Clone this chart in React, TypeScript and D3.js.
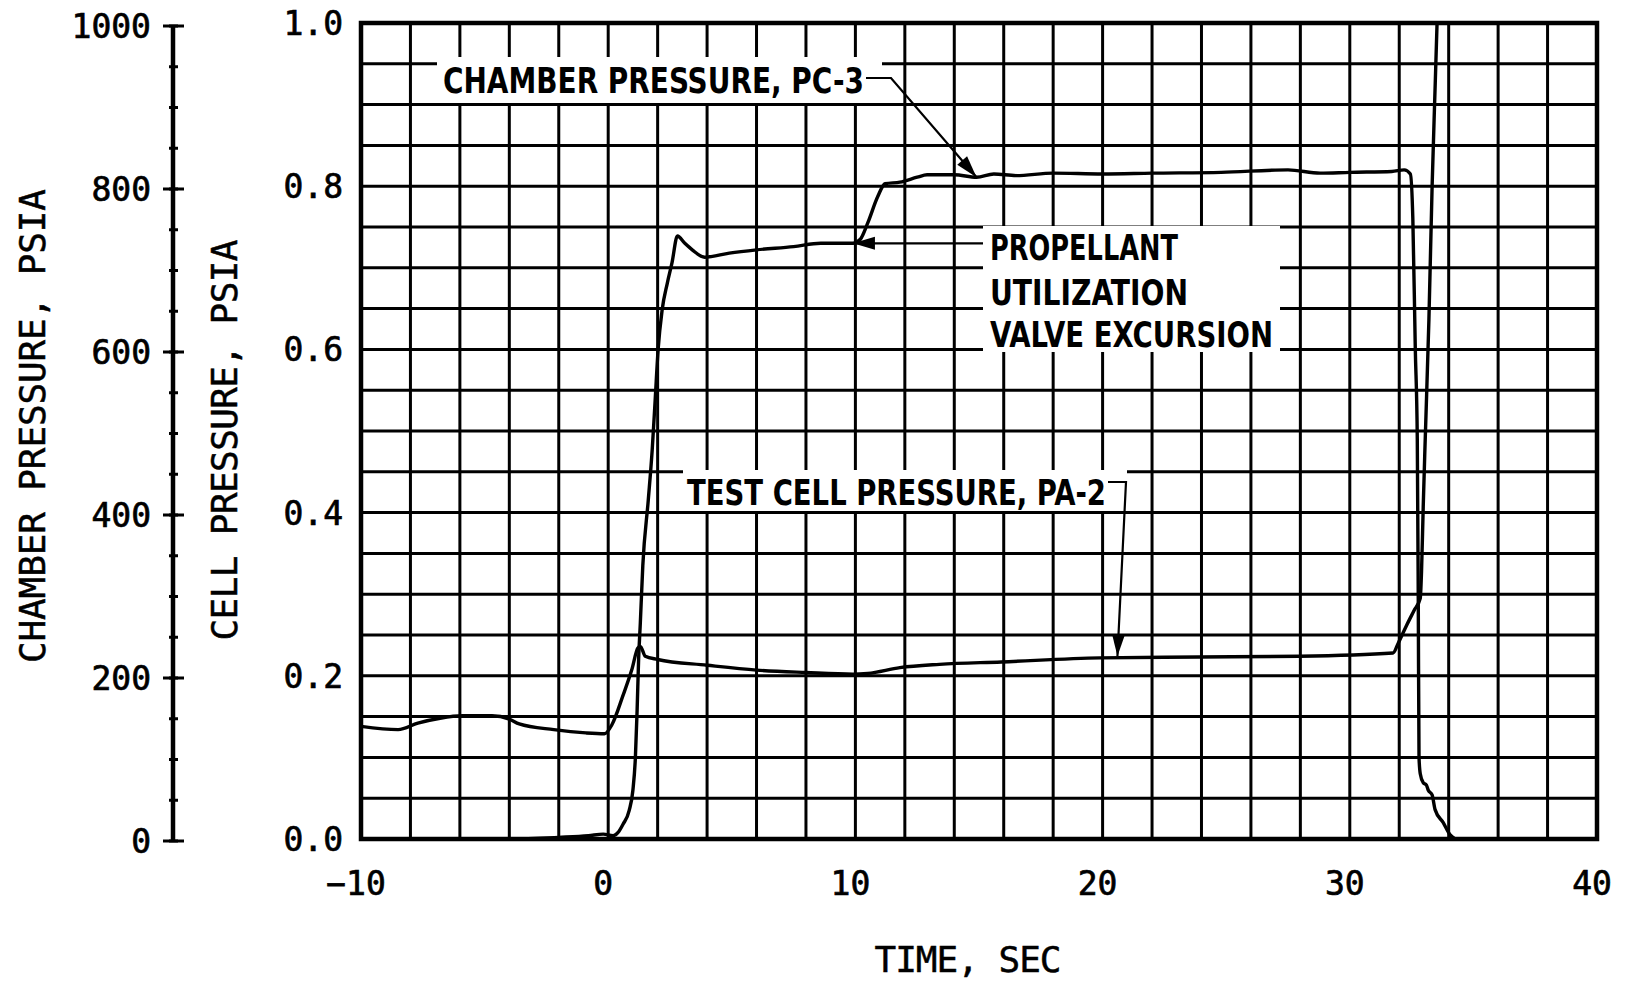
import React from 'react';
import * as d3 from 'd3';

// ---- Data ----
const timeTicks = [-10, 0, 10, 20, 30, 40];
const cellTicks = [0, 0.2, 0.4, 0.6, 0.8, 1.0];
const chamberTicks = [0, 200, 400, 600, 800, 1000];

// Chamber pressure PC-3 (psia) vs time (sec)
const chamberT = [-10, -4, -2, -0.8, -0.2, 0.2, 0.4, 0.6, 0.85, 1.0, 1.1, 1.17, 1.23, 1.3, 1.4, 1.62, 1.78, 1.9, 2.02, 2.18, 2.39, 2.58, 2.8, 3.1, 3.4, 3.9, 4.9, 6.0, 7.5, 8.6, 9.9, 10.2, 10.5, 10.9, 11.2, 11.8, 12.5, 12.9, 14.0, 14.9, 15.6, 16.5, 18, 20, 22, 24.8, 27.5, 28.8, 30, 31.7, 32.2, 32.45, 32.55, 32.65, 32.73, 32.77, 32.8, 32.85, 32.97, 33.1, 33.17, 33.33, 33.45, 33.78, 34.06, 34.26];
const chamberP = [0, 0, 2, 4, 6, 4, 8, 18, 35, 60, 100, 158, 220, 265, 335, 415, 477, 538, 600, 648, 681, 706, 739, 730, 722, 713, 718, 722, 726, 730, 730, 735, 755, 787, 803, 805, 811, 814, 814, 811, 815, 813, 816, 815, 816, 817, 820, 816, 817, 818, 820, 815, 760, 600, 490, 290, 100, 80, 69, 66, 60, 54, 36, 20, 5, 0];

// Test cell pressure PA-2 (psia) vs time (sec)
const cellT = [-10, -8.5, -7.7, -6.8, -5.9, -4.7, -4.0, -3.6, -2.2, -0.9, -0.15, 0.15, 0.6, 0.95, 1.2, 1.3, 1.5, 2.0, 4.0, 6.0, 8.0, 9.9, 10.5, 11.8, 13.4, 15.9, 19.9, 23.9, 27.95, 31.75, 31.96, 32.3, 32.6, 32.85, 32.9, 32.97, 33.05, 33.2, 33.33, 33.45, 33.55];
const cellP = [0.138, 0.134, 0.142, 0.148, 0.151, 0.151, 0.147, 0.141, 0.134, 0.130, 0.129, 0.140, 0.176, 0.207, 0.234, 0.236, 0.224, 0.220, 0.213, 0.207, 0.204, 0.202, 0.203, 0.210, 0.214, 0.217, 0.222, 0.223, 0.224, 0.228, 0.240, 0.262, 0.280, 0.295, 0.326, 0.407, 0.489, 0.636, 0.800, 0.920, 1.02];

const MONO = '"DejaVu Sans Mono", "Liberation Mono", monospace';
const COND = '"Liberation Sans Narrow", "DejaVu Sans Condensed", "Roboto Condensed", sans-serif';

function arrowHead(x1: number, y1: number, x2: number, y2: number, len = 22, half = 6.5) {
  const a = Math.atan2(y2 - y1, x2 - x1);
  const bx = x2 - len * Math.cos(a);
  const by = y2 - len * Math.sin(a);
  const px = -Math.sin(a) * half;
  const py = Math.cos(a) * half;
  return `${x2},${y2} ${bx + px},${by + py} ${bx - px},${by - py}`;
}

export default function App() {
  const L = 361, R = 1597, T = 23, B = 839;
  const x = d3.scaleLinear().domain([-10, 40]).range([L, R]);
  const yCell = d3.scaleLinear().domain([0, 1]).range([B, T]);
  const yChamber = d3.scaleLinear().domain([0, 1000]).range([B, T]);
  const yChamberAxis = d3.scaleLinear().domain([0, 1000]).range([841, 26]);

  const xGrid = d3.range(-10, 40.001, 2);
  const yGrid = d3.range(0, 1.0001, 0.05);
  const minorLeft = d3.range(0, 1000.001, 50);

  const chamberData = chamberT.map((t, i) => [t, chamberP[i]] as [number, number]);
  const cellData = cellT.map((t, i) => [t, cellP[i]] as [number, number]);

  const chamberLine = d3.line<[number, number]>()
    .x(d => x(d[0])).y(d => yChamber(d[1])).curve(d3.curveMonotoneX);
  const cellLine = d3.line<[number, number]>()
    .x(d => x(d[0])).y(d => yCell(d[1])).curve(d3.curveMonotoneX);

  // annotation geometry
  const pcTip: [number, number] = [x(14.9), yChamber(811)];
  const puTip: [number, number] = [x(9.9), yChamber(730)];
  const paTip: [number, number] = [x(20.6), yCell(0.224)];

  const pcStart: [number, number] = [891, 78];
  const puStart: [number, number] = [983, puTip[1]];
  const paStart: [number, number] = [1126, 482];

  return (
    <svg width={1627} height={983} style={{ position: 'absolute', left: 0, top: 0, background: '#fff' }}>
      <rect x={0} y={0} width={1627} height={983} fill="#fff" />
      <defs>
        <clipPath id="plotClip">
          <rect x={L} y={T} width={R - L} height={B - T} />
        </clipPath>
      </defs>

      {/* grid */}
      <g stroke="#000" strokeWidth={3}>
        {xGrid.map(t => (
          <line key={'vx' + t} x1={x(t)} x2={x(t)} y1={T} y2={B} />
        ))}
        {yGrid.map(v => (
          <line key={'hy' + v} x1={L} x2={R} y1={yCell(v)} y2={yCell(v)} />
        ))}
      </g>

      {/* label boxes blanking grid */}
      <g fill="#fff">
        <rect x={437} y={57} width={445} height={46} />
        <rect x={983} y={226} width={297} height={126} />
        <rect x={683} y={470} width={444} height={41} />
      </g>

      {/* plot border */}
      <rect x={L} y={T} width={R - L} height={B - T} fill="none" stroke="#000" strokeWidth={4.5} />

      {/* curves */}
      <g clipPath="url(#plotClip)" fill="none" stroke="#000" strokeWidth={3.4} strokeLinejoin="round">
        <path d={chamberLine(chamberData) || ''} />
        <path d={cellLine(cellData) || ''} />
      </g>

      {/* left (chamber) axis */}
      <g stroke="#000">
        <line x1={173} x2={173} y1={yChamberAxis(1000)} y2={yChamberAxis(0)} strokeWidth={4.5} />
        {minorLeft.map(v => (
          <line key={'mt' + v} x1={169} x2={178} y1={yChamberAxis(v)} y2={yChamberAxis(v)} strokeWidth={3} />
        ))}
        {chamberTicks.map(v => (
          <line key={'Mt' + v} x1={163} x2={184} y1={yChamberAxis(v)} y2={yChamberAxis(v)} strokeWidth={3} />
        ))}
      </g>
      <g fontFamily={MONO} fontSize={33} fill="#000" stroke="#000" strokeWidth={0.7} textAnchor="end">
        {chamberTicks.map(v => (
          <text key={'cl' + v} x={151} y={yChamberAxis(v) + 12}>{String(v)}</text>
        ))}
        {cellTicks.map(v => (
          <text key={'pl' + v} x={343} y={yCell(v) + 12}>{v.toFixed(1)}</text>
        ))}
      </g>
      <g fontFamily={MONO} fontSize={33} fill="#000" stroke="#000" strokeWidth={0.7} textAnchor="middle">
        {timeTicks.map(t => (
          <text key={'tl' + t} x={x(t) - 5} y={895}>{String(t).replace('-', '\u2212')}</text>
        ))}
      </g>

      {/* axis titles */}
      <g fontFamily={MONO} fontSize={36} fill="#000" stroke="#000" strokeWidth={0.5} textAnchor="middle">
        <text transform="translate(45,426) rotate(-90)" textLength={474}>CHAMBER PRESSURE, PSIA</text>
        <text transform="translate(237,440) rotate(-90)" textLength={401}>CELL PRESSURE, PSIA</text>
        <text x={968} y={972} textLength={187}>TIME, SEC</text>
      </g>

      {/* annotations */}
      <g stroke="#000" strokeWidth={2.2} fill="none">
        <polyline points={`866,${pcStart[1]} ${pcStart[0]},${pcStart[1]} ${pcTip[0]},${pcTip[1]}`} />
        <line x1={puStart[0]} y1={puStart[1]} x2={puTip[0]} y2={puTip[1]} />
        <polyline points={`1108,${paStart[1]} ${paStart[0]},${paStart[1]} ${paTip[0]},${paTip[1]}`} />
      </g>
      <g fill="#000">
        <polygon points={arrowHead(pcStart[0], pcStart[1], pcTip[0], pcTip[1])} />
        <polygon points={arrowHead(puStart[0], puStart[1], puTip[0], puTip[1])} />
        <polygon points={arrowHead(paStart[0], paStart[1], paTip[0], paTip[1])} />
      </g>
      <g fontFamily={COND} fontWeight="bold" fontSize={35} fill="#000">
        <text x={443} y={93} textLength={421} lengthAdjust="spacingAndGlyphs">CHAMBER PRESSURE, PC-3</text>
        <text x={990} y={260} textLength={188} lengthAdjust="spacingAndGlyphs">PROPELLANT</text>
        <text x={990} y={305} textLength={198} lengthAdjust="spacingAndGlyphs">UTILIZATION</text>
        <text x={990} y={347} textLength={283} lengthAdjust="spacingAndGlyphs">VALVE EXCURSION</text>
        <text x={687} y={505} textLength={419} lengthAdjust="spacingAndGlyphs">TEST CELL PRESSURE, PA-2</text>
      </g>
    </svg>
  );
}
